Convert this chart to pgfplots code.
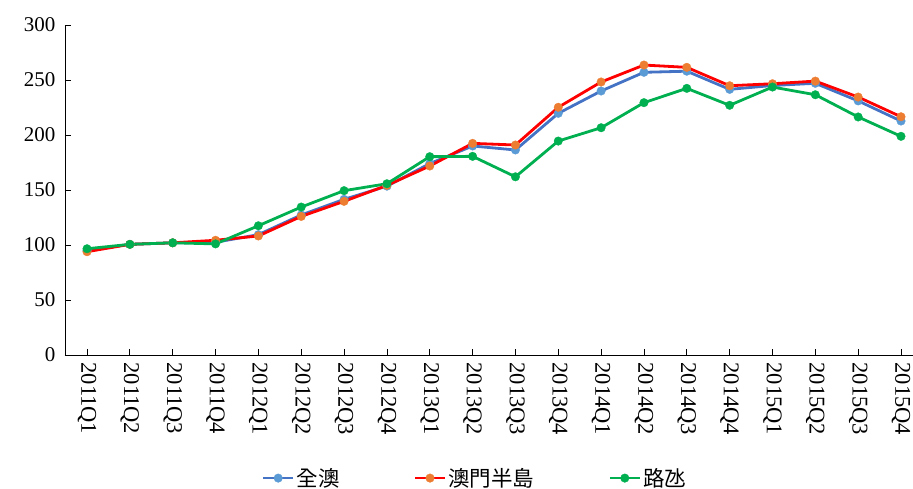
\documentclass[border=0pt]{standalone}
\usepackage{fontspec}
\setmainfont{Liberation Serif}
\newfontfamily\cjk{Noto Sans CJK TC}
\usepackage{pgfplots}
\pgfplotsset{compat=1.18}
\definecolor{cblueline}{HTML}{4472C4}
\definecolor{cbluemark}{HTML}{5B9BD5}
\definecolor{credline}{HTML}{FF0000}
\definecolor{corange}{HTML}{ED7D31}
\definecolor{cgreen}{HTML}{00B050}
\begin{document}
\begin{tikzpicture}
\useasboundingbox (-65pt,-133pt) rectangle (848pt,355pt);
\begin{axis}[
  scale only axis, width=848pt, height=330pt,
  at={(0pt,0pt)}, anchor=south west,
  xmin=-0.514, xmax=19.28, ymin=0, ymax=300,
  axis x line*=bottom, axis y line*=left,
  xtick={0,...,19},
  xticklabels={2011Q1,2011Q2,2011Q3,2011Q4,2012Q1,2012Q2,2012Q3,2012Q4,2013Q1,2013Q2,2013Q3,2013Q4,2014Q1,2014Q2,2014Q3,2014Q4,2015Q1,2015Q2,2015Q3,2015Q4},
  ytick={0,50,...,300},
  tick align=inside, major tick length=6pt,
  tick style={black, line width=0.8pt},
  axis line style={black, line width=0.8pt},
  /pgf/number format/assume math mode=true,
  yticklabel style={font=\fontsize{21}{24}\selectfont, xshift=-6pt},
  xticklabel style={font=\fontsize{22.5}{26}\selectfont, rotate=-90, anchor=west},
  xticklabel shift=4pt,
  legend columns=3,
  legend style={draw=none, at={(0.4835,-0.373)}, anchor=center,
    font=\cjk\fontsize{21.5}{25}\selectfont,
    /tikz/every even column/.append style={column sep=72pt}},
  legend image code/.code={\draw[mark repeat=2,mark phase=2] plot coordinates {(0pt,0pt) (15pt,0pt) (30pt,0pt)};},
]
\addplot[cblueline, line width=2.8pt, mark=*, mark size=4.3pt, mark options={solid, fill=cbluemark, draw=cbluemark, line width=0.3pt}]
coordinates {(0,95) (1,100.6) (2,102) (3,102.5) (4,109.4) (5,127.3) (6,141.5) (7,153.5) (8,174) (9,190) (10,186.4) (11,219.7) (12,240) (13,257) (14,258) (15,241.5) (16,245) (17,247) (18,231) (19,212.7)};
\addlegendentry{全澳}
\addplot[credline, line width=2.8pt, mark=*, mark size=4.3pt, mark options={solid, fill=corange, draw=corange, line width=0.3pt}]
coordinates {(0,93.9) (1,100.6) (2,102) (3,104.3) (4,108.2) (5,126) (6,139.7) (7,154.2) (8,171.8) (9,192.4) (10,190.9) (11,225.2) (12,248.2) (13,263.6) (14,261.5) (15,244.8) (16,246.6) (17,249) (18,234.5) (19,216.6)};
\addlegendentry{澳門半島}
\addplot[cgreen, line width=2.8pt, mark=*, mark size=4.3pt, mark options={solid, fill=cgreen, draw=cgreen, line width=0.3pt}]
coordinates {(0,96.6) (1,100.6) (2,102) (3,101) (4,117.5) (5,134.5) (6,149.4) (7,155.7) (8,180.3) (9,180.6) (10,162) (11,194.5) (12,206.6) (13,229.4) (14,242.4) (15,227) (16,243.6) (17,236.6) (18,216.4) (19,198.8)};
\addlegendentry{路氹}
\end{axis}
\end{tikzpicture}
\end{document}
